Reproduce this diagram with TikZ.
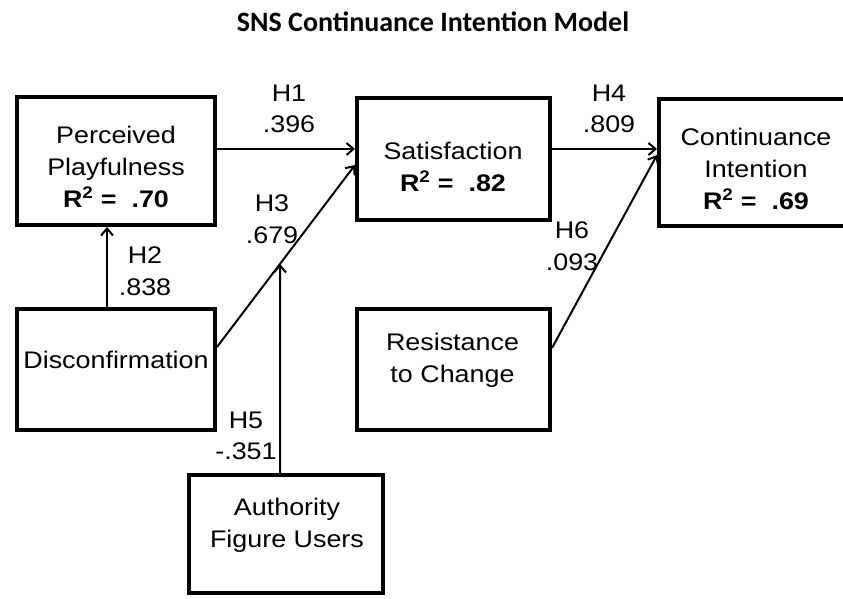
\documentclass[tikz,border=0pt]{standalone}
\usepackage{fontspec}
\setmainfont[FakeStretch=1.12]{Liberation Sans}
\newfontfamily\titlefont{Carlito}
\usetikzlibrary{arrows.meta,calc}

\begin{document}
\begin{tikzpicture}[x=1pt,y=-1pt,
  construct/.style={draw=black,line width=4pt,fill=white,inner sep=0pt,
    minimum width=#1},
  construct/.default=198pt,
  lbl/.style={align=center,inner sep=0pt,font=\fontsize{24}{31.7}\selectfont},
  path/.style={line width=2pt,-{Straight Barb[length=7pt,width=12pt,line width=2pt]}},
]
\useasboundingbox (0,0) rectangle (843,599);
\clip (0,0) rectangle (843,599);

% title
\node[inner sep=0pt,font=\titlefont\bfseries\fontsize{28}{32}\selectfont] (title) at (433,21.5)
  {SNS Continuance Intention Model};

% constructs (outer edges given in pixel-like units)
\node[construct=198pt,minimum height=128pt] (pp)  at (116,161)   {};
\node[construct=193pt,minimum height=122pt] (sat) at (453.5,159) {};
\node[construct=194pt,minimum height=127pt] (ci)  at (756,162.5) {};
\node[construct=198pt,minimum height=121pt] (dis) at (116,369.5) {};
\node[construct=193pt,minimum height=121pt] (rtc) at (453.5,369.5) {};
\node[construct=194pt,minimum height=118pt] (afu) at (286,534)   {};

% construct names
\node[lbl] (ppT)  at (116,167)   {Perceived\\Playfulness\\\textbf{R\textsuperscript{2} = \ .70}};
\node[lbl] (satT) at (453,167)   {Satisfaction\\\textbf{R\textsuperscript{2} = \ .82}};
\node[lbl] (ciT)  at (756,169)   {Continuance\\Intention\\\textbf{R\textsuperscript{2} = \ .69}};
\node[lbl] (disT) at (116,360)   {Disconfirmation};
\node[lbl] (rtcT) at (452.5,360) {Resistance\\to Change};
\node[lbl] (afuT) at (287,525)   {Authority\\Figure Users};

% paths between constructs
\coordinate (h1s) at (pp.east |- 0,149);
\coordinate (h1e) at (sat.west |- 0,149);
\draw[path] (h1s) -- (h1e);

\coordinate (h2s) at (dis.north -| 107,0);
\coordinate (h2e) at (pp.south -| 107,0);
\draw[path] (h2s) -- (h2e);

\coordinate (h3s) at (dis.east |- 0,347);
\coordinate (h3e) at (sat.west |- 0,165);
\draw[path] (h3s) -- (h3e);

\coordinate (h4s) at (sat.east |- 0,149);
\coordinate (h4e) at (ci.west |- 0,149);
\draw[path] (h4s) -- (h4e);

% H5 ends on the H3 path
\coordinate (h5s) at (afu.north -| 280,0);
\coordinate (h5e) at ($(h3s)!0.4565!(h3e)$);
\draw[path] (h5s) -- (h5e);

\coordinate (h6s) at (rtc.east |- 0,348);
\coordinate (h6e) at (ci.west |- 0,155);
\draw[path] (h6s) -- (h6e);

% path coefficients
\node[lbl] (l1) at (289,109) {H1\\.396};
\node[lbl] (l2) at (145,271) {H2\\.838};
\node[lbl] (l3) at (272,219) {H3\\.679};
\node[lbl] (l4) at (609,109) {H4\\.809};
\node[lbl] (l5) at (246,436) {H5\\-.351};
\node[lbl] (l6) at (572,246) {H6\\.093};
\end{tikzpicture}
\end{document}
